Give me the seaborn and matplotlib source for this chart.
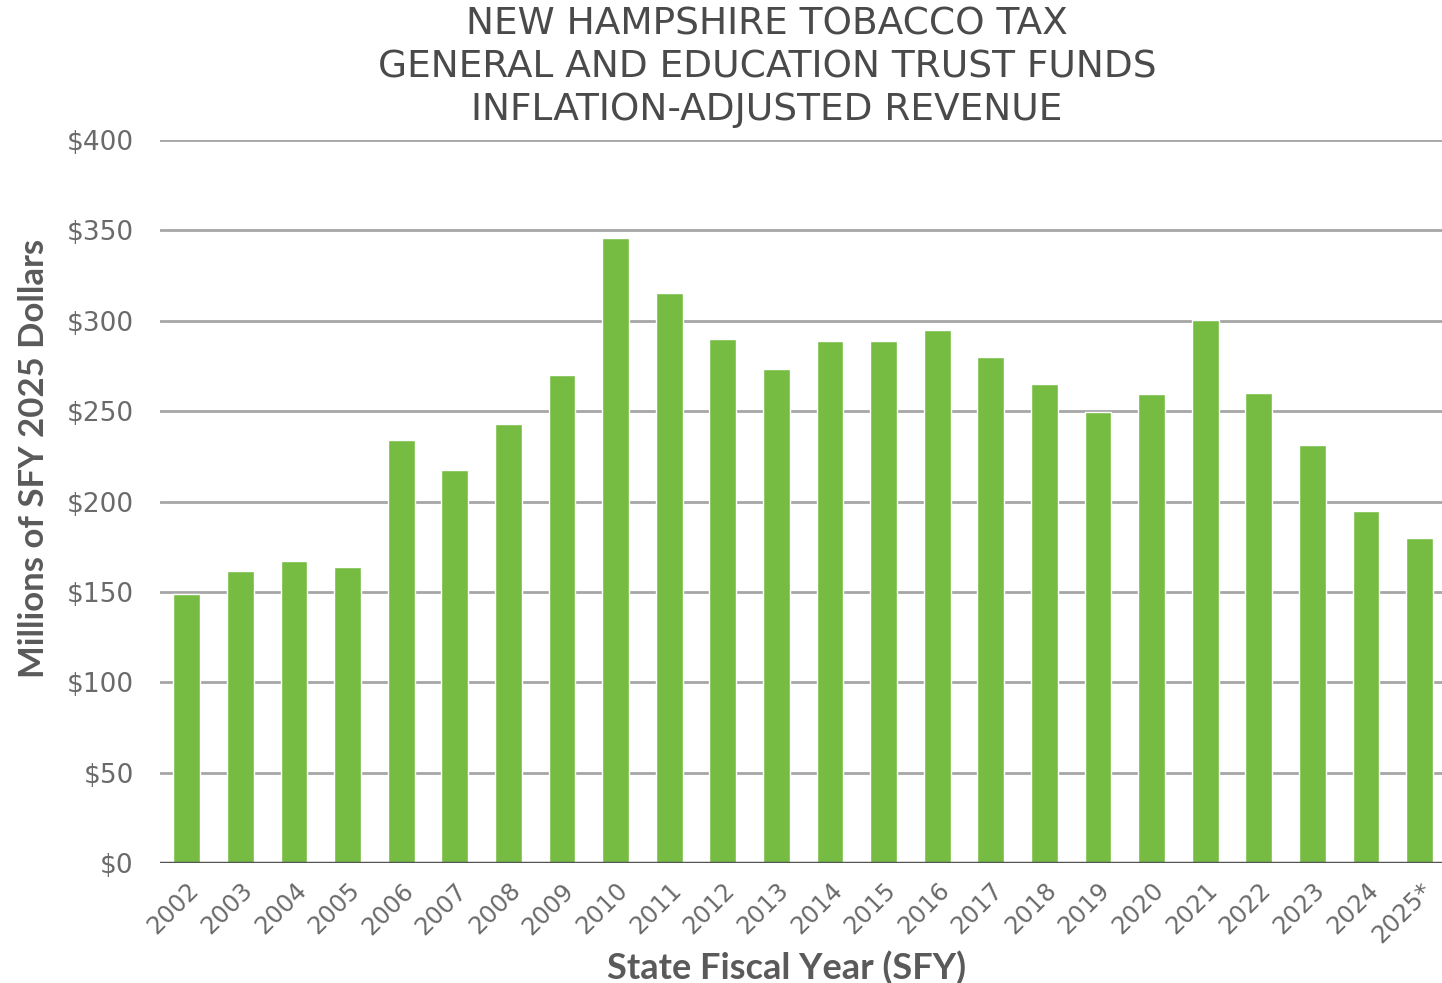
import matplotlib
matplotlib.use("Agg")
import matplotlib.pyplot as plt
import seaborn as sns
import pandas as pd

years = ["2002", "2003", "2004", "2005", "2006", "2007", "2008", "2009", "2010", "2011",
         "2012", "2013", "2014", "2015", "2016", "2017", "2018", "2019", "2020", "2021",
         "2022", "2023", "2024", "2025*"]
revenue = [149, 161.5, 167, 164, 234, 217.5, 243, 270, 346, 315.5,
           290, 273.5, 289, 289, 295, 280, 265, 249.5, 259.5, 300.5,
           260, 231.5, 195, 180]
yticks = [0, 50, 100, 150, 200, 250, 300, 350, 400]
ytick_labels = ["$0", "$50", "$100", "$150", "$200", "$250", "$300", "$350", "$400"]

sns.set_theme(style="white")
plt.rcParams['font.family'] = ['DejaVu Sans']

df = pd.DataFrame({"year": years, "revenue": revenue})
txt = "#5a5a5a"

fig = plt.figure(figsize=(14.42, 9.83), dpi=100)
ax = fig.add_axes([0.111, 0.122, 0.889, 0.7356])
ax.set_axisbelow(True)
for t in yticks[1:]:
    ax.axhline(t, color="#a6a6a6", lw=2, zorder=0)
sns.barplot(data=df, x="year", y="revenue", color="#76bc43", saturation=1,
            width=0.5, ax=ax, zorder=2)
ax.axhline(0, color="#555555", lw=2.5, zorder=3)
ax.set_ylim(0, 400)
ax.set_xlim(-0.5, 23.42)
ax.set_yticks(yticks)
ax.set_yticklabels(ytick_labels, fontsize=19, color="#6a6a6a")
ax.tick_params(axis="y", length=0, pad=19)
ax.tick_params(axis="x", length=0, pad=11)
ax.set_xticks(range(len(years)))
ax.set_xticklabels(years, rotation=45, ha="right", rotation_mode="anchor",
                   fontsize=17.5, color="#6a6a6a")
for s in ax.spines.values():
    s.set_visible(False)
ax.set_xlabel("State Fiscal Year (SFY)", fontsize=26, color=txt, fontweight="bold",
              family=["Lato", "DejaVu Sans"])
ax.set_ylabel("Millions of SFY 2025 Dollars", fontsize=25, color=txt, fontweight="bold",
              family=["Lato", "DejaVu Sans"])
ax.xaxis.set_label_coords(0.489, -0.122)
ax.yaxis.set_label_coords(-0.086, 0.56)

fig.text(0.532, 0.993, "NEW HAMPSHIRE TOBACCO TAX\nGENERAL AND EDUCATION TRUST FUNDS\nINFLATION-ADJUSTED REVENUE",
         ha="center", va="top", fontsize=27, color="#4a4a4a", linespacing=1.24)

fig.savefig("out.png", dpi=100)
